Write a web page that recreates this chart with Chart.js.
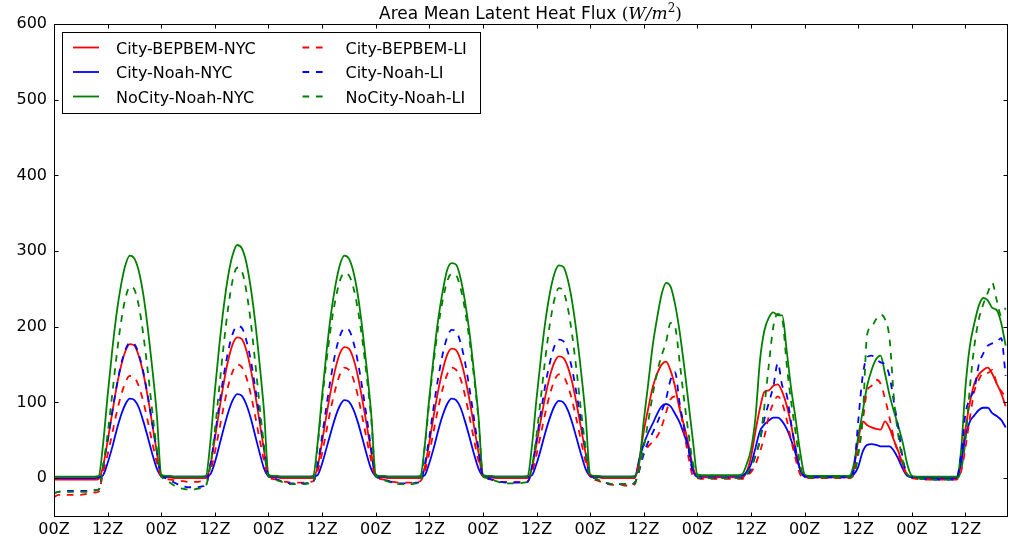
<!doctype html>
<html>
<head>
  <meta charset="utf-8">
  <title>Area Mean Latent Heat Flux</title>
  <script src="https://cdn.jsdelivr.net/npm/chart.js@4.4.1/dist/chart.umd.min.js"></script>
  <style>
    html, body { margin: 0; padding: 0; background: #fff; }
    #wrap { width: 1018px; height: 541px; }
  </style>
</head>
<body>
<div id="wrap"><canvas id="lhChart" width="1018" height="541"></canvas></div>

<script>
  // hourly area means, hour 0 = first 00Z, one line per day
  var cityBepbemNyc = [
    -2,-2,-2,-2,-2,-2,-2,-2,-2,-2,-1, 16,49,85,120,148,168,177,175,161,138,107,71,35,
    2,1,1,0,0,0,0,0,0,0,0, 17,52,90,126,156,177,186,184,170,145,112,75,37,
    2,1,1,0,0,0,0,0,0,0,0, 15,48,84,117,145,165,173,171,158,135,104,70,34,
    2,1,1,0,0,0,0,0,0,0,0, 15,47,83,116,143,163,171,169,156,133,103,69,34,
    2,1,1,0,0,0,0,0,0,0,0, 14,45,78,109,135,153,161,159,147,126,97,65,32,
    2,1,1,0,0,0,0,0,0,0,0, 24,62,92,120,138,150,154,142,121,92,70,45,15,
    2,1,1,1,1,1,1,1,1,1,1, 8,28,62,92,114,116,122,124,114,96,70,38,12,
    2,1,1,1,1,1,1,1,1,1,1, 12,50,75,70,67,65,64,75,66,50,35,18,4,
    1,0,0,0,0,0,0,0,0,0,0, 20,65,100,125,137,143,146,138,125,112,95
  ];
  var cityNoahNyc = [
    0,0,0,0,0,0,0,0,0,0,1, 4,20,40,63,83,98,105,103,93,75,54,32,13,
    3,2,2,2,2,2,2,2,2,2,2, 5,21,43,66,87,103,111,109,98,80,57,34,13,
    3,2,2,2,2,2,2,2,2,2,2, 4,19,40,61,81,96,103,101,91,74,53,31,12,
    3,2,2,2,2,2,2,2,2,2,2, 4,20,40,63,83,98,105,103,93,75,54,32,13,
    3,2,2,2,2,2,2,2,2,2,2, 4,19,39,61,80,95,102,100,90,73,52,31,12,
    3,2,2,2,2,2,2,2,2,2,2, 25,45,60,72,85,95,98,95,85,74,58,40,10,
    2,3,3,3,3,3,3,3,3,3,3, 8,18,40,62,71,76,80,80,75,65,50,32,11,
    3,2,2,2,2,2,2,2,2,2,2, 5,15,35,44,45,44,42,42,42,36,25,12,3,
    2,1,1,1,1,0,0,0,0,0,0, 20,55,75,83,90,93,93,86,82,77,67
  ];
  var noCityNoahNyc = [
    2,2,2,2,2,2,2,2,2,2,3, 46,109,167,217,255,282,294,290,273,242,198,145,85,
    5,3,3,2,2,2,2,2,2,2,3, 48,115,175,227,268,295,308,304,286,253,208,152,89,
    5,3,3,2,2,2,2,2,2,2,3, 46,109,167,217,255,282,294,290,273,242,198,145,85,
    5,3,3,2,2,2,2,2,2,2,3, 44,106,162,210,247,275,284,282,264,233,192,140,82,
    5,3,3,2,2,2,2,2,2,2,3, 44,105,160,208,245,270,281,279,262,232,190,139,81,
    5,3,3,2,2,2,2,2,2,2,3, 20,76,125,175,212,243,258,253,230,195,150,100,50,
    5,4,4,4,4,4,4,4,4,4,5, 18,38,80,155,195,212,219,215,215,168,118,78,35,
    5,3,3,3,3,3,3,3,3,3,3, 18,55,88,122,143,157,162,138,110,88,68,46,18,
    3,2,2,2,2,2,2,2,2,2,2, 35,120,175,205,228,238,235,225,222,205,175
  ];
  var cityBepbemLi = [
    -25,-22,-22,-22,-22,-22,-22,-21,-20,-19,-18, 8,31,58,86,109,127,135,133,121,101,75,47,21,
    2,-1,-2,-3,-4,-4,-5,-5,-5,-4,-3, 9,34,64,95,122,141,150,147,134,112,83,52,23,
    2,-1,-2,-4,-5,-6,-6,-6,-6,-5,-4, 9,33,63,93,118,137,146,143,131,109,81,51,23,
    2,-1,-2,-4,-5,-6,-6,-6,-6,-5,-4, 9,33,63,93,118,137,146,143,131,109,81,51,23,
    2,-1,-2,-3,-5,-5,-5,-5,-5,-5,-4, 8,31,59,87,111,129,137,135,122,102,76,48,21,
    2,-2,-4,-6,-8,-9,-9,-9,-10,-10,-8, 20,32,42,48,55,68,87,104,108,95,62,28,3,
    0,-1,-1,-1,-1,-1,-1,-1,-1,-1,-1, 3,8,18,35,55,82,99,108,99,77,50,25,5,
    1,0,0,0,0,0,0,0,0,0,0, 5,35,75,115,122,130,125,105,80,52,32,15,3,
    0,-1,-2,-2,-2,-2,-2,-2,-2,-2,-2, 8,40,80,115,130,139,139,143,125,115,108
  ];
  var cityNoahLi = [
    -20,-18,-17,-17,-17,-17,-17,-17,-17,-16,-15, 16,50,86,121,150,170,179,177,163,140,108,72,36,
    3,0,-3,-6,-9,-11,-12,-12,-12,-11,-9, 18,56,97,136,168,191,201,199,183,157,121,81,40,
    3,0,-2,-4,-6,-7,-7,-7,-7,-6,-5, 18,55,96,134,166,188,198,196,180,154,119,80,39,
    3,0,-2,-4,-6,-7,-7,-7,-7,-6,-5, 18,54,95,133,164,186,196,194,179,153,118,79,39,
    3,0,-2,-4,-5,-6,-6,-6,-6,-6,-5, 16,51,88,124,153,174,183,181,167,143,110,74,36,
    2,0,-3,-5,-7,-8,-8,-8,-8,-8,-6, 10,32,48,60,73,88,105,130,140,100,68,38,8,
    2,0,0,0,0,0,0,0,0,0,0, 4,12,30,50,78,100,121,152,122,110,72,38,11,
    2,1,1,1,1,1,1,1,1,1,1, 10,75,135,160,162,157,153,150,135,100,65,25,5,
    1,0,-1,-1,-2,-2,-2,-2,-2,-2,-1, 30,85,105,118,150,165,175,178,180,185,135
  ];
  var noCityNoahLi = [
    -20,-18,-18,-18,-18,-18,-18,-18,-17,-16,-15, 16,58,109,161,206,238,253,249,227,189,141,88,39,
    3,-2,-6,-10,-13,-14,-15,-15,-14,-13,-10, 17,63,120,177,226,262,278,274,249,208,155,97,43,
    3,0,-3,-5,-7,-8,-8,-8,-8,-7,-6, 42,101,155,201,236,261,271,268,252,223,183,134,78,
    3,0,-3,-5,-7,-8,-8,-8,-8,-7,-6, 42,101,154,200,235,260,270,268,251,222,182,134,78,
    3,0,-2,-4,-6,-7,-7,-7,-7,-6,-5, 16,57,108,160,204,236,251,247,225,188,140,87,39,
    2,0,-3,-5,-7,-8,-8,-8,-8,-8,-6, 12,40,75,110,140,162,180,205,200,155,105,60,20,
    3,0,0,0,0,0,0,0,0,0,0, 5,15,30,50,95,150,200,217,210,150,100,60,18,
    2,1,1,1,1,1,1,1,1,1,1, 5,30,80,190,200,210,216,210,185,105,55,22,5,
    1,0,-1,-1,-2,-2,-2,-2,-2,-2,-1, 10,50,120,175,210,230,245,258,235,215,225
  ];

  var seriesNames = ['City-BEPBEM-NYC', 'City-Noah-NYC', 'NoCity-Noah-NYC',
                     'City-BEPBEM-LI', 'City-Noah-LI', 'NoCity-Noah-LI'];
  var xTicks = [0, 12, 24, 36, 48, 60, 72, 84, 96, 108, 120, 132, 144, 156, 168, 180, 192, 204];
  var tickNames = ['00Z', '12Z'];
  var yTicks = [0, 100, 200, 300, 400, 500, 600];
  var xMax = 213.3;

  var hours = cityBepbemNyc.map(function (v, i) { return i; });
  var SANS = '"DejaVu Sans", "Liberation Sans", sans-serif';
  var MATH = '"DejaVu Serif", "Liberation Serif", serif';

  function line(label, values, color, dashed, order) {
    return {
      label: label,
      data: values,
      borderColor: color,
      backgroundColor: color,
      borderWidth: 1.8,
      borderDash: dashed ? [6.7, 6.7] : [],
      pointRadius: 0,
      fill: false,
      cubicInterpolationMode: 'monotone',
      order: order
    };
  }

  // title with the math part set in italic serif
  var titlePlugin = {
    id: 'mplTitle',
    afterDraw: function (chart) {
      var ctx = chart.ctx, a = chart.chartArea;
      var parts = [
        { t: 'Area Mean Latent Heat Flux ', f: '17px ' + SANS, dy: 0 },
        { t: '(', f: '17px ' + MATH, dy: 0 },
        { t: 'W/m', f: 'italic 17px ' + MATH, dy: 0 },
        { t: '2', f: '12px ' + MATH, dy: -7 },
        { t: ')', f: '17px ' + MATH, dy: 0 }
      ];
      ctx.save();
      var total = 0;
      parts.forEach(function (p) { ctx.font = p.f; p.w = ctx.measureText(p.t).width; total += p.w; });
      var x = (a.left + a.right) / 2 - total / 2;
      ctx.fillStyle = '#000';
      ctx.textBaseline = 'alphabetic';
      parts.forEach(function (p) { ctx.font = p.f; ctx.fillText(p.t, x, 19 + p.dy); x += p.w; });
      ctx.restore();
    }
  };

  // axes box with inward ticks on all four sides
  var framePlugin = {
    id: 'mplFrame',
    afterDatasetsDraw: function (chart) {
      var ctx = chart.ctx, a = chart.chartArea, xs = chart.scales.x, ys = chart.scales.y;
      var L = Math.round(a.left) + 0.5, R = Math.round(a.right) + 0.5;
      var T = Math.round(a.top) + 0.5, B = Math.round(a.bottom) + 0.5;
      ctx.save();
      ctx.strokeStyle = '#000';
      ctx.lineWidth = 1;
      ctx.beginPath();
      xTicks.forEach(function (v) {
        var px = Math.round(xs.getPixelForValue(v)) + 0.5;
        ctx.moveTo(px, B); ctx.lineTo(px, B - 4);
        ctx.moveTo(px, T); ctx.lineTo(px, T + 4);
      });
      yTicks.forEach(function (v) {
        var py = Math.round(ys.getPixelForValue(v)) + 0.5;
        ctx.moveTo(L, py); ctx.lineTo(L + 4, py);
        ctx.moveTo(R, py); ctx.lineTo(R - 4, py);
      });
      ctx.stroke();
      ctx.strokeRect(L, T, R - L, B - T);
      ctx.restore();
    }
  };

  // two-column legend box, upper left
  var legendPlugin = {
    id: 'mplLegend',
    afterDraw: function (chart) {
      var ctx = chart.ctx;
      ctx.save();
      ctx.fillStyle = '#fff';
      ctx.fillRect(62.5, 32.5, 418, 81);
      ctx.strokeStyle = '#000';
      ctx.lineWidth = 1;
      ctx.strokeRect(62.5, 32.5, 418, 81);
      chart.data.datasets.forEach(function (ds, i) {
        var col = Math.floor(i / 3), row = i % 3;
        var x0 = 73 + col * 229.5, y = 47.5 + row * 24.5;
        ctx.strokeStyle = ds.borderColor;
        ctx.lineWidth = 1.8;
        ctx.setLineDash(ds.borderDash);
        ctx.beginPath();
        ctx.moveTo(x0, y); ctx.lineTo(x0 + 26, y);
        ctx.stroke();
        ctx.setLineDash([]);
        ctx.fillStyle = '#000';
        ctx.font = '16px ' + SANS;
        ctx.textBaseline = 'alphabetic';
        ctx.fillText(ds.label, x0 + 43, y + 6);
      });
      ctx.restore();
    }
  };

  new Chart(document.getElementById('lhChart'), {
    type: 'line',
    data: {
      labels: hours,
      datasets: [
        line(seriesNames[0], cityBepbemNyc, '#ff0000', false, 5),
        line(seriesNames[1], cityNoahNyc, '#0000ff', false, 4),
        line(seriesNames[2], noCityNoahNyc, '#008000', false, 3),
        line(seriesNames[3], cityBepbemLi, '#ff0000', true, 2),
        line(seriesNames[4], cityNoahLi, '#0000ff', true, 1),
        line(seriesNames[5], noCityNoahLi, '#008000', true, 0)
      ]
    },
    options: {
      responsive: false,
      devicePixelRatio: 1,
      animation: false,
      layout: { padding: { top: 24, right: 11, left: 0, bottom: 0 } },
      plugins: {
        legend: { display: false },
        title: { display: false },
        tooltip: { enabled: false }
      },
      scales: {
        x: {
          type: 'linear',
          min: 0,
          max: xMax,
          grid: { display: false, drawTicks: false },
          border: { display: false },
          afterBuildTicks: function (s) { s.ticks = xTicks.map(function (v) { return { value: v }; }); },
          afterFit: function (s) { s.height = 25; },
          ticks: {
            color: '#000',
            padding: 4,
            maxRotation: 0,
            autoSkip: false,
            font: { family: SANS, size: 16 },
            callback: function (v) { return tickNames[(v / 12) % 2]; }
          }
        },
        y: {
          min: -50,
          max: 600,
          grid: { display: false, drawTicks: false },
          border: { display: false },
          afterBuildTicks: function (s) { s.ticks = yTicks.map(function (v) { return { value: v }; }); },
          afterFit: function (s) { s.width = 54; },
          ticks: {
            color: '#000',
            padding: 7,
            font: { family: SANS, size: 16 }
          }
        }
      }
    },
    plugins: [framePlugin, legendPlugin, titlePlugin]
  });
</script>
</body>
</html>
